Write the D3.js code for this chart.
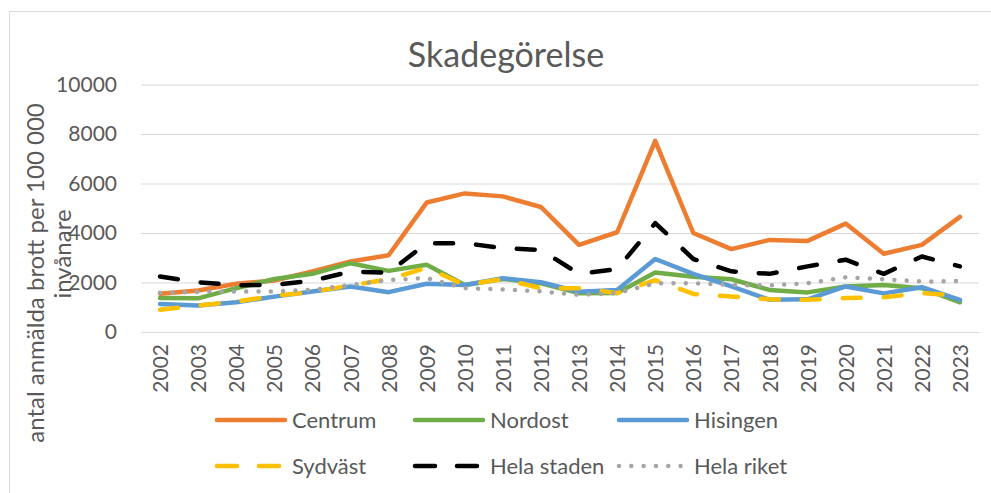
<!DOCTYPE html>
<html><head><meta charset="utf-8">
<script src="https://cdn.jsdelivr.net/npm/d3@7"></script>
<style>body{margin:0;background:#fff}svg{display:block}text{font-family:Lato,"Open Sans",sans-serif;fill:#595959}</style>
</head><body><svg id="c" width="991" height="493"></svg>
<script>
const years = ["2002","2003","2004","2005","2006","2007","2008","2009","2010","2011","2012","2013","2014","2015","2016","2017","2018","2019","2020","2021","2022","2023"];
const centrum    = [1550,1680,1950,2080,2450,2850,3100,5230,5600,5480,5050,3520,4030,7720,4000,3350,3720,3680,4380,3160,3520,4650];
const nordost    = [1370,1360,1770,2140,2350,2780,2470,2720,1900,2140,1970,1570,1580,2400,2230,2130,1700,1600,1840,1900,1770,1200];
const hisingen   = [1130,1070,1200,1430,1640,1840,1610,1950,1900,2170,2010,1630,1700,2950,2350,1840,1300,1320,1840,1560,1810,1300];
const sydvast    = [900,1070,1230,1460,1620,1880,2130,2600,1900,2140,1770,1770,1570,2100,1540,1430,1320,1300,1370,1400,1570,1460];
const helaStaden = [2240,2010,1890,1900,2070,2440,2400,3590,3590,3390,3310,2350,2540,4400,2950,2450,2350,2650,2920,2350,3050,2650];
const helaRiket  = [1590,1620,1640,1640,1700,1900,2100,2180,1770,1720,1640,1500,1570,1970,1970,1900,1880,1970,2210,2130,2040,2060];
const yTicks = [0,2000,4000,6000,8000,10000];
const title = "Skadegörelse";
const yTitle = ["antal anmälda brott per 100 000","invånare"];

const series = [
  {name:"Centrum", values:centrum, color:"#ED7D31", dash:null},
  {name:"Nordost", values:nordost, color:"#70AD47", dash:null},
  {name:"Hisingen", values:hisingen, color:"#5B9BD5", dash:null},
  {name:"Sydväst", values:sydvast, color:"#FFC000", dash:"18,23"},
  {name:"Hela staden", values:helaStaden, color:"#000000", dash:"18,23"},
  {name:"Hela riket", values:helaRiket, color:"#A5A5A5", dash:"0.01,12.3"}
];

const svg = d3.select("#c");
const L = 141, R = 979, T = 84.5, B = 332;
const x = d3.scalePoint().domain(years).range([L, R]).padding(0.5);
const y = d3.scaleLinear().domain([0, 10000]).range([B, T]);

svg.append("rect").attr("x", 9.5).attr("y", 11.5).attr("width", 1100).attr("height", 600)
  .attr("fill", "none").attr("stroke", "#d9d9d9").attr("stroke-width", 1);

svg.append("text").attr("x", 506).attr("y", 67).attr("text-anchor", "middle")
  .style("font-size", "34px").text(title);

const grid = svg.append("g").attr("transform", `translate(${L},0)`)
  .call(d3.axisLeft(y).tickValues(yTicks).tickSize(-(R - L)).tickFormat(""));
grid.select(".domain").remove();
grid.selectAll("line").attr("stroke", "#d9d9d9").attr("stroke-width", 1.2);

const yl = svg.append("g").attr("transform", `translate(${L},0)`)
  .call(d3.axisLeft(y).tickValues(yTicks).tickSize(0).tickPadding(24).tickFormat(d3.format("d")));
yl.select(".domain").remove();
yl.selectAll("text").style("font-size", "21px").attr("fill", "#595959").style("font-family", "Lato");

const xa = svg.append("g").attr("transform", `translate(0,${B})`)
  .call(d3.axisBottom(x).tickSize(0));
xa.select(".domain").attr("stroke", "#d9d9d9").attr("stroke-width", 1.2);
xa.selectAll("text").attr("transform", "rotate(-90)").attr("x", -12).attr("y", 0)
  .attr("dy", "0.36em").attr("text-anchor", "end")
  .style("font-size", "21px").attr("fill", "#595959").style("font-family", "Lato");

svg.append("text").attr("transform", "translate(44,273) rotate(-90)").attr("text-anchor", "middle")
  .style("font-size", "24px").text(yTitle[0]);
svg.append("text").attr("transform", "translate(71,254) rotate(-90)").attr("text-anchor", "middle")
  .style("font-size", "24px").text(yTitle[1]);

const line = d3.line().x((d, i) => x(years[i])).y(d => y(d));
series.forEach(s => {
  svg.append("path").datum(s.values).attr("d", line)
    .attr("fill", "none").attr("stroke", s.color).attr("stroke-width", 4.5)
    .attr("stroke-linecap", "round").attr("stroke-linejoin", "round")
    .attr("stroke-dasharray", s.dash);
});

const lx = [215, 413, 617], ly = [420, 466];
series.forEach((s, i) => {
  const gx = lx[i % 3], gy = ly[Math.floor(i / 3)];
  svg.append("line").attr("x1", gx + 2).attr("x2", gx + 70).attr("y1", gy).attr("y2", gy)
    .attr("stroke", s.color).attr("stroke-width", 4.5).attr("stroke-linecap", "round")
    .attr("stroke-dasharray", s.dash ? (i === 5 ? "0.01,12.3" : "20,22") : null);
  svg.append("text").attr("x", gx + 77).attr("y", gy).attr("dy", "0.35em")
    .style("font-size", "22px").text(s.name);
});
</script></body></html>
